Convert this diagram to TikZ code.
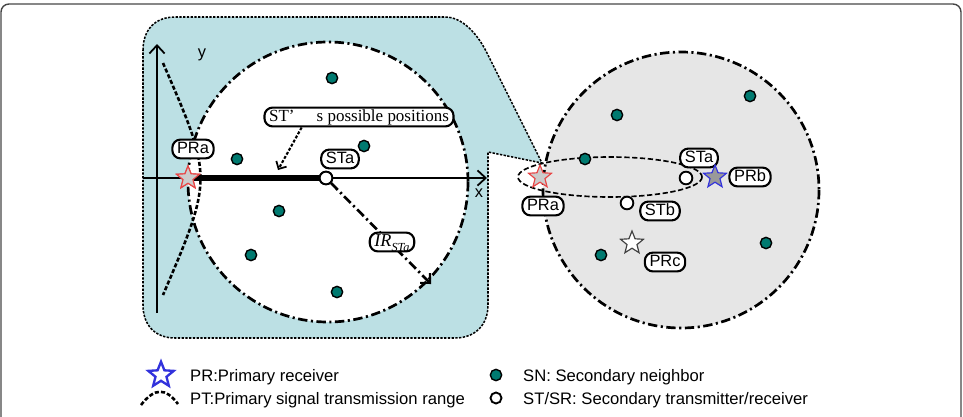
\documentclass[tikz,border=0pt]{standalone}
\usepackage{fontspec}
\setmainfont{Liberation Sans}
\newfontfamily\tnr{Liberation Serif}
\usetikzlibrary{shapes.geometric,arrows.meta,calc}

\definecolor{callblue}{RGB}{188,224,228}
\definecolor{rangegray}{RGB}{230,230,230}
\definecolor{snteal}{RGB}{0,122,112}
\definecolor{prred}{RGB}{232,70,70}
\definecolor{prblue}{RGB}{50,50,220}
\definecolor{framegray}{RGB}{70,70,70}

\tikzset{
  lbl/.style={draw, line width=1.8pt, fill=white, rounded corners=7pt, inner xsep=4pt,
    inner ysep=1.8pt, text height=10pt, text depth=2.5pt, font=\fontsize{14}{16}\selectfont},
  sn/.style={circle, draw, line width=1.2pt, fill=snteal, minimum size=0.34cm, inner sep=0pt},
  st/.style={circle, draw, line width=1.6pt, fill=white, minimum size=0.38cm, inner sep=0pt},
  prstar/.style={star, star points=5, star point ratio=2.3, minimum size=0.72cm, inner sep=0pt, line width=1pt},
  dashdot/.style={line width=2.3pt, dash pattern=on 8pt off 3pt on 1.8pt off 3pt},
  ptrange/.style={line width=2.2pt, dash pattern=on 3.5pt off 1.8pt},
  legtext/.style={anchor=west, font=\fontsize{14.2}{16}\selectfont, inner sep=0pt}
}

\begin{document}
\begin{tikzpicture}[x=0.03cm, y=-0.03cm]
\useasboundingbox (0,0) rectangle (963,416);
% frame
\draw[framegray, line width=1.2pt, rounded corners=0.24cm] (1,440) -- (1,4) -- (961,4) -- (961,440);

% zoomed callout
\filldraw[callblue, draw=black, line width=1.3pt, dash pattern=on 2pt off 1.2pt]
  (143,50) .. controls (143,30) and (155,17) .. (175,17) -- (445,17)
  .. controls (462,17) and (477,33) .. (487,53) -- (542,163) -- (488,152) -- (488,305)
  .. controls (488,325) and (475,338) .. (455,338) -- (175,338)
  .. controls (155,338) and (143,325) .. (143,305) -- cycle;

% interference ranges
\coordinate (c1) at (328,182);
\coordinate (c2) at (681,190);
\filldraw[fill=white, draw=black, dashdot] (c1) circle[radius=140];
\filldraw[fill=rangegray, draw=black, dashdot] (c2) circle[radius=138];
\draw[line width=1.4pt, dash pattern=on 4.5pt off 2.2pt] (610,177) ellipse[x radius=92, y radius=20];

% axes
\coordinate (xo) at (143,178);
\coordinate (xe) at (487,178);
\coordinate (yo) at (157,313);
\coordinate (ye) at (157,44);
\draw[line width=1.5pt, -{Straight Barb[length=7pt,width=13pt,line width=1.5pt]}] (xo) -- (xe);
\draw[line width=1.5pt, -{Straight Barb[length=7pt,width=13pt,line width=1.5pt]}] (yo) -- (ye);
\node[font=\fontsize{14}{16}\selectfont] (ylbl) at (202,55) {y};
\node[font=\fontsize{14}{16}\selectfont] (xlbl) at (479,193) {x};

\draw[ptrange] (163,63) .. controls (213,178) .. (163,295);

% left view
\node[prstar, draw=prred, fill=black!20] (pra1) at (188,178) {};
\node[st] (sta1) at (326,178) {};
\draw[line width=4.5pt] (pra1.center) -- (sta1.west);
\node[prstar, draw=prred, fill=black!20] at (188,178) {};
\node[st] at (326,178) {};
\node[lbl] (pra1lbl) at (193,149) {PRa};
\node[lbl] (sta1lbl) at (340,159) {STa};
\node[lbl, font=\tnr\fontsize{14.5}{16}\selectfont] (poslbl) at (359,117) {ST’\hspace{1.3em}s possible positions};
\coordinate (barpt) at (278,170);
\draw[line width=1.8pt, dash pattern=on 2.5pt off 1.5pt, -{Straight Barb[length=5pt,width=10pt,line width=1.5pt]}]
  ($(poslbl.south west)!0.2!(poslbl.south east)$) -- (barpt);
\coordinate (irend) at (431,284);
\draw[dashdot, -{Straight Barb[length=6pt,width=12pt,line width=1.8pt]}] (sta1) -- (irend);
\node[lbl, font=\tnr\itshape\fontsize{15.5}{16}\selectfont] (irlbl) at (392,242)
  {IR\raisebox{-0.6ex}{\fontsize{10.5}{11}\selectfont STa}};
\foreach \px/\py in {332/78, 364/146, 237/159, 279/211, 251/255, 337/292}
  \node[sn] at (\px,\py) {};

% right view
\foreach \px/\py in {617/115, 750/96, 585/159, 766/243, 601/255}
  \node[sn] at (\px,\py) {};
\node[prstar, draw=prred, fill=black!20] (pra2) at (540,177) {};
\node[lbl] (pra2lbl) at (543,206) {PRa};
\node[st] (sta2) at (686,178) {};
\node[lbl] (sta2lbl) at (699,158) {STa};
\node[prstar, draw=prblue, fill=black!40] (prb) at (715,177) {};
\node[lbl] (prblbl) at (750,177) {PRb};
\node[st] (stb) at (627,203) {};
\node[lbl] (stblbl) at (660,211) {STb};
\node[prstar, draw=black!75, fill=white] (prc) at (632,243) {};
\node[lbl] (prclbl) at (665,262) {PRc};

% legend
\node[prstar, draw=prblue, line width=2pt, fill=white, minimum size=0.8cm] (legpr) at (161,375) {};
\node[legtext] (legprtxt) at (190,377) {PR:Primary receiver};
\draw[ptrange] (141,405) .. controls (155,387) and (166,388) .. (178,404);
\node[legtext] (legpttxt) at (190,400) {PT:Primary signal transmission range};
\node[sn] (legsn) at (496,375) {};
\node[legtext] (legsntxt) at (523,377) {SN: Secondary neighbor};
\node[st, minimum size=0.33cm] (legst) at (496,398) {};
\node[legtext] (legsttxt) at (523,400) {ST/SR: Secondary transmitter/receiver};
\end{tikzpicture}
\end{document}
